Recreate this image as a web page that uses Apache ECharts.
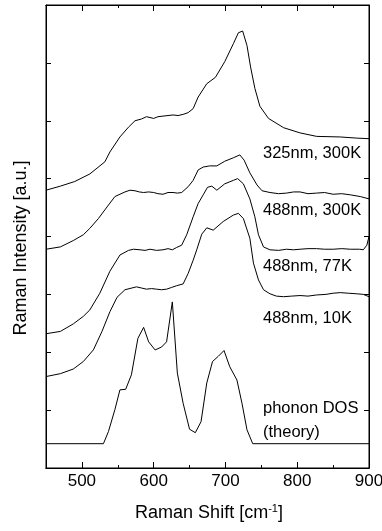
<!DOCTYPE html>
<html>
<head>
<meta charset="utf-8">
<script src="https://cdn.jsdelivr.net/npm/echarts@6/dist/echarts.min.js"></script>
<style>
html,body{margin:0;padding:0;background:#fff;}
#main{width:382px;height:531px;}
</style>
</head>
<body>
<div id="main"></div>
<script>
// Raman spectra, offset vertically (x: cm-1, y: a.u.)
var uv300K = [[450,4.80],[470,4.87],[490,4.95],[511,5.08],[532,5.29],[539,5.46],[553,5.72],[565,5.89],[574,6.00],[583,6.03],[590,6.07],[600,6.04],[606,6.07],[613,6.08],[620,6.09],[627,6.10],[634,6.09],[641,6.11],[648,6.14],[655,6.21],[662,6.41],[674,6.64],[686,6.75],[699,7.02],[711,7.33],[718,7.52],[724,7.55],[730,7.30],[735,6.93],[741,6.56],[748,6.25],[760,6.04],[781,5.88],[804,5.79],[827,5.73],[860,5.72],[883,5.70],[900,5.69]];
var blue300K = [[450,3.78],[470,3.82],[488,3.93],[502,4.03],[511,4.14],[523,4.31],[535,4.51],[546,4.69],[560,4.77],[567,4.80],[574,4.79],[580,4.77],[586,4.76],[593,4.77],[600,4.76],[606,4.74],[613,4.73],[620,4.76],[627,4.76],[633,4.75],[639,4.76],[648,4.86],[655,4.97],[662,5.15],[669,5.20],[678,5.22],[688,5.22],[699,5.30],[711,5.36],[720,5.41],[726,5.32],[734,5.10],[744,4.89],[751,4.79],[762,4.76],[774,4.74],[785,4.75],[795,4.77],[804,4.77],[815,4.74],[827,4.75],[838,4.76],[850,4.73],[862,4.74],[874,4.72],[888,4.69],[900,4.65]];
var blue77K = [[450,2.32],[470,2.36],[488,2.49],[502,2.62],[511,2.73],[525,3.02],[539,3.40],[553,3.68],[565,3.76],[572,3.78],[581,3.77],[588,3.76],[595,3.78],[604,3.76],[613,3.77],[620,3.79],[626,3.77],[632,3.81],[639,3.85],[646,4.03],[655,4.34],[662,4.57],[669,4.72],[675,4.85],[681,4.87],[688,4.80],[699,4.91],[711,4.97],[717,5.00],[725,4.91],[734,4.65],[741,4.34],[746,4.03],[753,3.82],[762,3.77],[774,3.76],[785,3.78],[795,3.77],[804,3.78],[815,3.79],[827,3.79],[838,3.78],[850,3.78],[862,3.79],[874,3.78],[887,3.78],[892,3.77],[897,3.85],[900,4.00]];
var blue10K = [[450,1.58],[470,1.63],[488,1.71],[502,1.84],[516,2.04],[528,2.36],[539,2.70],[549,2.95],[560,3.08],[576,3.13],[583,3.11],[590,3.09],[597,3.10],[604,3.09],[611,3.08],[618,3.09],[625,3.12],[632,3.15],[641,3.18],[648,3.36],[655,3.59],[660,3.77],[667,4.04],[674,4.15],[683,4.11],[697,4.26],[711,4.37],[718,4.40],[725,4.31],[734,3.97],[739,3.54],[746,3.25],[753,3.08],[762,3.01],[771,2.97],[781,2.96],[792,2.97],[804,2.98],[815,2.97],[827,2.99],[840,3.00],[850,3.02],[860,3.03],[871,3.02],[883,3.01],[892,3.00],[900,2.96]];
var phononDOS = [[450,0.42],[530,0.42],[537,0.63],[546,1.01],[553,1.35],[561,1.36],[569,1.61],[578,2.24],[586,2.43],[593,2.18],[602,2.04],[611,2.09],[618,2.18],[626,2.87],[633,1.64],[641,1.12],[650,0.67],[658,0.61],[666,0.80],[674,1.47],[682,1.84],[690,1.93],[698,2.03],[706,1.75],[716,1.52],[723,1.12],[730,0.66],[738,0.42],[900,0.42]];

var majorTicks = [500,600,700,800,900];
var minorTicks = [550,650,750,850];
var labels = ['325nm, 300K','488nm, 300K','488nm, 77K','488nm, 10K','phonon DOS','(theory)'];
var labelY = [153,210,266,318,408,432];

var font = 'Liberation Sans';

function xAx(pos,ticks,len,showLabel){
	return {
		type:'value', position:pos, min:450, max:900,
		axisLine:{show:true,onZero:false,lineStyle:{color:'#000',width:1}},
		axisTick:{show:true,inside:true,length:len,customValues:ticks,lineStyle:{color:'#000'}},
		axisLabel:{show:showLabel,customValues:majorTicks,color:'#000',fontSize:17,fontFamily:font,margin:5},
		splitLine:{show:false}
	};
}
function yAx(pos){
	return {
		type:'value', position:pos, min:0, max:8, interval:1,
		axisLine:{show:true,onZero:false,lineStyle:{color:'#000',width:1}},
		axisTick:{show:true,inside:true,length:5,lineStyle:{color:'#000'}},
		axisLabel:{show:false},
		splitLine:{show:false}
	};
}
function line(d){
	return {type:'line',data:d,symbol:'none',xAxisIndex:0,yAxisIndex:0,
		lineStyle:{color:'#000',width:1},animation:false};
}

var graphics = [];
for(var i=0;i<labels.length;i++){
	graphics.push({type:'text',x:263,y:labelY[i],
		style:{text:labels[i],fill:'#000',fontSize:16.5,fontFamily:font,verticalAlign:'middle'}});
}
graphics.push({type:'text',x:21,y:248,rotation:Math.PI/2,
	style:{text:'Raman Intensity [a.u.]',fill:'#000',fontSize:18,fontFamily:font,align:'center',verticalAlign:'middle'}});
graphics.push({type:'text',x:209,y:513,
	style:{text:'Raman Shift [cm{sup|-1}]',fill:'#000',fontSize:18,fontFamily:font,align:'center',verticalAlign:'middle',
		rich:{sup:{fontSize:11,fontFamily:font,fill:'#000',verticalAlign:'top',padding:[0,0,9,0]}}}});

var option = {
	animation:false,
	backgroundColor:'#fff',
	grid:{left:46,right:13,top:5,bottom:63,containLabel:false,outerBoundsMode:'none',
		show:true,borderColor:'#000',borderWidth:1,backgroundColor:'transparent'},
	xAxis:[xAx('bottom',majorTicks,6,true),xAx('bottom',minorTicks,3,false),
		xAx('top',majorTicks,6,false),xAx('top',minorTicks,3,false)],
	yAxis:[yAx('left'),yAx('right')],
	series:[line(uv300K),line(blue300K),line(blue77K),line(blue10K),line(phononDOS)],
	graphic:graphics
};
echarts.init(document.getElementById('main')).setOption(option);
</script>
</body>
</html>
